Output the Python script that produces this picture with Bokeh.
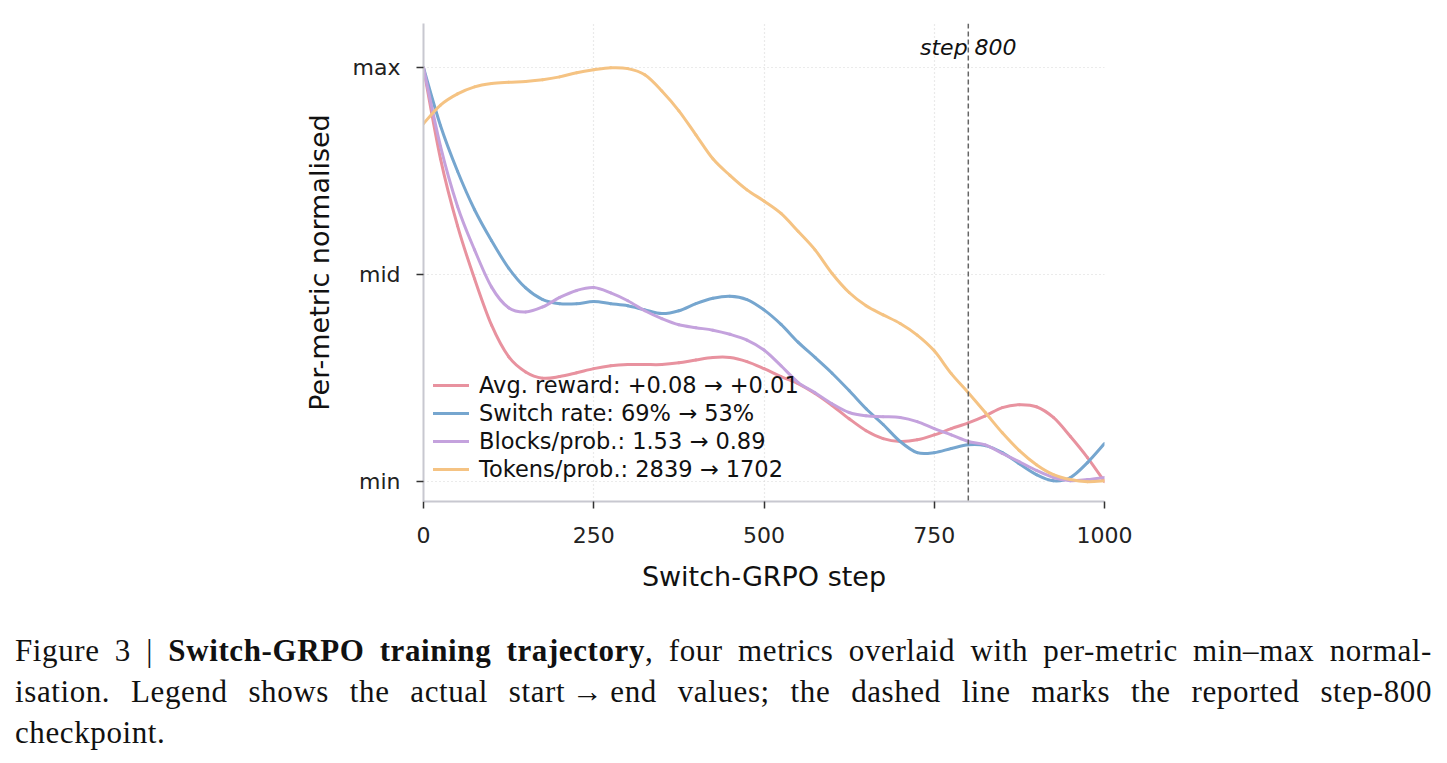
from bokeh.plotting import figure
from bokeh.models import (Range1d, FixedTicker, Legend, LegendItem, Span, Label, Div,
                          ColumnDataSource)
from bokeh.layouts import column
from bokeh.embed import file_html
from bokeh.resources import INLINE

# Switch-GRPO training steps (x) and per-metric min-max normalised values
steps = list(range(0, 1001, 25))

avg_reward = [1.0, 0.78, 0.618, 0.49, 0.378, 0.302, 0.265, 0.25, 0.254, 0.263,
              0.273, 0.28, 0.283, 0.283, 0.283, 0.287, 0.294, 0.30, 0.30, 0.29,
              0.273, 0.254, 0.237, 0.213, 0.184, 0.152, 0.123, 0.104, 0.097, 0.101,
              0.113, 0.128, 0.142, 0.159, 0.179, 0.186, 0.181, 0.155, 0.109, 0.058,
              0.0]

switch_rate = [1.0, 0.86, 0.75, 0.657, 0.582, 0.516, 0.468, 0.44, 0.43, 0.43,
               0.435, 0.43, 0.425, 0.415, 0.406, 0.413, 0.43, 0.443, 0.448, 0.44,
               0.415, 0.38, 0.337, 0.3, 0.262, 0.22, 0.176, 0.138, 0.097, 0.07,
               0.07, 0.08, 0.089, 0.087, 0.07, 0.043, 0.017, 0.002, 0.01, 0.046,
               0.092]

blocks_per_prob = [1.0, 0.81, 0.665, 0.56, 0.47, 0.42, 0.41, 0.422, 0.445, 0.462,
                   0.469, 0.456, 0.437, 0.413, 0.394, 0.379, 0.372, 0.366, 0.356, 0.342,
                   0.318, 0.28, 0.24, 0.215, 0.188, 0.167, 0.159, 0.157, 0.155, 0.145,
                   0.128, 0.113, 0.097, 0.089, 0.068, 0.048, 0.027, 0.01, 0.002, 0.005,
                   0.01]

tokens_per_prob = [0.865, 0.91, 0.937, 0.954, 0.962, 0.965, 0.967, 0.971, 0.978, 0.988,
                   0.995, 1.0, 0.998, 0.983, 0.944, 0.896, 0.838, 0.78, 0.74, 0.705,
                   0.678, 0.648, 0.605, 0.56, 0.503, 0.457, 0.425, 0.403, 0.382, 0.354,
                   0.316, 0.261, 0.215, 0.167, 0.118, 0.075, 0.041, 0.017, 0.005, 0.0,
                   0.002]

series_labels = ["Avg. reward: +0.08 \u2192 +0.01",
                 "Switch rate: 69% \u2192 53%",
                 "Blocks/prob.: 1.53 \u2192 0.89",
                 "Tokens/prob.: 2839 \u2192 1702"]
series_colors = ["#e8929f", "#76a6cf", "#c4a2dd", "#f5c383"]

x_ticks = [0, 250, 500, 750, 1000]
y_ticks = [0, 0.5, 1]
y_tick_labels = {0: "min", 0.5: "mid", 1: "max"}
checkpoint_step = 800

SANS = "DejaVu Sans"


def smooth_segments(xs, ys):
    """Catmull-Rom control points so the curve passes smoothly through every sample."""
    n = len(xs)
    seg = dict(x0=[], y0=[], x1=[], y1=[], cx0=[], cy0=[], cx1=[], cy1=[])
    for i in range(n - 1):
        xa, ya = xs[max(i - 1, 0)], ys[max(i - 1, 0)]
        xb, yb = xs[i], ys[i]
        xc, yc = xs[i + 1], ys[i + 1]
        xd, yd = xs[min(i + 2, n - 1)], ys[min(i + 2, n - 1)]
        seg["x0"].append(xb); seg["y0"].append(yb)
        seg["x1"].append(xc); seg["y1"].append(yc)
        seg["cx0"].append(xb + (xc - xa) / 6); seg["cy0"].append(yb + (yc - ya) / 6)
        seg["cx1"].append(xc - (xd - xb) / 6); seg["cy1"].append(yc - (yd - yb) / 6)
    return ColumnDataSource(seg)


p = figure(frame_width=681, frame_height=478,
           min_border_left=423, min_border_right=343,
           min_border_top=23, min_border_bottom=129,
           x_range=Range1d(0, 1000), y_range=Range1d(-0.048, 1.107),
           output_backend="svg", toolbar_location=None,
           background_fill_color="white", border_fill_color="white")
p.outline_line_color = None

# axes
for ax in (p.xaxis[0], p.yaxis[0]):
    ax.axis_line_color = "#c8c8d0"
    ax.axis_line_width = 2
    ax.major_tick_line_color = "#333333"
    ax.major_tick_line_width = 1.5
    ax.major_tick_out = 7
    ax.major_tick_in = 0
    ax.minor_tick_line_color = None
    ax.major_label_text_font = SANS
    ax.major_label_text_font_size = "22px"
    ax.major_label_text_color = "#222222"
    ax.axis_label_text_font = SANS
    ax.axis_label_text_font_size = "27px"
    ax.axis_label_text_font_style = "normal"
    ax.axis_label_text_color = "#111111"

p.xaxis.ticker = FixedTicker(ticks=x_ticks)
p.yaxis.ticker = FixedTicker(ticks=y_ticks)
p.yaxis.major_label_overrides = y_tick_labels
p.xaxis.axis_label = "Switch-GRPO step"
p.yaxis.axis_label = "Per-metric normalised"
p.xaxis.major_label_standoff = 18
p.yaxis.major_label_standoff = 16
p.xaxis.axis_label_standoff = 15
p.yaxis.axis_label_standoff = 15

# dotted grid
p.xgrid.ticker = FixedTicker(ticks=x_ticks)
p.ygrid.ticker = FixedTicker(ticks=y_ticks)
for g in (p.xgrid[0], p.ygrid[0]):
    g.grid_line_color = "#d6d6d6"
    g.grid_line_dash = "1 3"
    g.grid_line_width = 1.2

# metric curves, drawn as smooth bezier segments through the samples
renderers = []
for vals, col in zip([avg_reward, switch_rate, blocks_per_prob, tokens_per_prob], series_colors):
    src = smooth_segments(steps, vals)
    r = p.bezier(x0="x0", y0="y0", x1="x1", y1="y1", cx0="cx0", cy0="cy0",
                 cx1="cx1", cy1="cy1", source=src,
                 line_color=col, line_width=3.0, line_cap="round")
    renderers.append(r)

# checkpoint marker
p.add_layout(Span(location=checkpoint_step, dimension="height", line_color="#666666",
                  line_dash="5 3", line_width=1.5))
p.add_layout(Label(x=checkpoint_step, y=1.05, text="step 800", text_align="center",
                   text_baseline="middle", text_font=SANS, text_font_size="22px",
                   text_font_style="italic", text_color="#111111"))

legend = Legend(items=[LegendItem(label=lab, renderers=[r]) for lab, r in zip(series_labels, renderers)],
                location=(10, 19), background_fill_alpha=0, border_line_alpha=0,
                padding=0, margin=0, spacing=2, glyph_width=36, label_standoff=10,
                label_text_font=SANS, label_text_font_size="22.5px", label_text_color="#111111")
p.add_layout(legend)

caption_html = (
    '<div style="font-family:\'Liberation Serif\',serif; font-size:31px; letter-spacing:0.6px; '
    'line-height:41px; color:#111; width:1417px; margin-left:15px;">'
    '<div style="text-align:justify; text-align-last:justify;">Figure 3 | <b>Switch-GRPO training trajectory</b>, '
    'four metrics overlaid with per-metric min\u2013max normal-</div>'
    '<div style="text-align:justify; text-align-last:justify;">isation. Legend shows the actual start\u2009\u2192\u2009end values; '
    'the dashed line marks the reported step-800</div>'
    '<div style="text-align:left;">checkpoint.</div>'
    '</div>'
)
caption = Div(text=caption_html, width=1447, height=133, margin=(0, 0, 0, 0))

layout = column(p, caption, spacing=0)
open("out.html", "w").write(file_html(layout, INLINE))
